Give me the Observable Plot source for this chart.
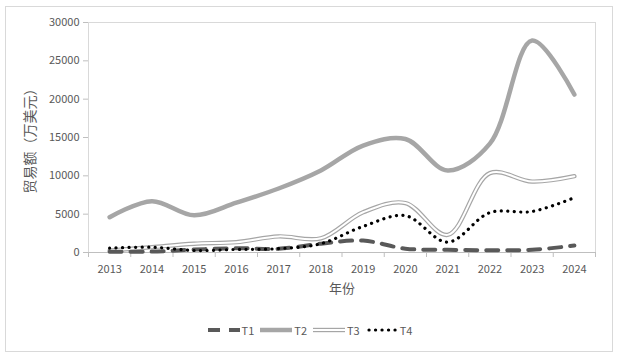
<!DOCTYPE html>
<html><head><meta charset="utf-8">
<script src="https://cdn.jsdelivr.net/npm/d3@7"></script>
<script src="https://cdn.jsdelivr.net/npm/@observablehq/plot@0.6"></script>
<style>
body{margin:0;background:#fff;font-family:"Noto Sans CJK SC","Noto Sans",sans-serif;}
#box{position:absolute;left:5px;top:6px;width:606px;height:344px;border:1px solid #d9d9d9;background:#fff;}
#legend{position:absolute;left:2px;top:311px;width:606px;height:24px;display:flex;justify-content:center;align-items:center;font-size:11px;color:#595959;}
#legend .it{display:flex;align-items:center;margin:0 1px;}
#legend svg{display:block;}
</style></head>
<body><div id="box"><div id="chart"></div><div id="legend"></div></div>
<script>
const years = [2013,2014,2015,2016,2017,2018,2019,2020,2021,2022,2023,2024];
const seriesNames = ["T1","T2","T3","T4"];
const T1 = [100,120,380,560,480,1150,1550,500,350,300,350,900];
const T2 = [4600,6700,4850,6500,8350,10700,13950,14800,10700,14200,27650,20600];
const T3 = [250,700,1150,1350,2100,1850,5250,6450,2300,10350,9250,9950];
const T4 = [560,690,260,400,500,1150,3400,4800,1350,5200,5350,7150];
const yTicks = [0,5000,10000,15000,20000,25000,30000];

const rows = (vals, name) => years.map((yr,i)=>({year:yr, value:vals[i], series:name}));
const d1 = rows(T1,"T1"), d2 = rows(T2,"T2"), d3 = rows(T3,"T3"), d4 = rows(T4,"T4");
const bounds = years.map(y=>y-0.5).concat([years[years.length-1]+0.5]);

const font = '"Noto Sans CJK SC","Noto Sans",sans-serif';
const chart = Plot.plot({
  width: 606, height: 304,
  marginLeft: 82, marginRight: 17, marginTop: 15, marginBottom: 59,
  style: {fontFamily: font, fontSize: "11px", color: "#595959", background: "#fff"},
  x: {type: "linear", domain: [bounds[0], bounds[bounds.length-1]]},
  y: {domain: [0, 30000]},
  marks: [
    Plot.frame({stroke: "#d9d9d9"}),
    Plot.axisY({ticks: yTicks, tickSize: 5, tickPadding: 4, stroke: "#bfbfbf", tickFormat: d=>String(d),
      label: "贸易额（万美元）", labelAnchor: "center", labelArrow: "none", labelOffset: 63, fontSize: 11}),
    Plot.axisX({ticks: bounds, tickSize: 5, tickFormat: ()=>"", stroke: "#bfbfbf", label: null}),
    Plot.axisX({ticks: years, tickSize: 0, tickPadding: 13, tickFormat: d=>String(d),
      label: "年份", labelAnchor: "center", labelArrow: "none", labelOffset: 40}),
    Plot.ruleY([0], {stroke: "#bfbfbf"}),
    Plot.line(d2, {x:"year", y:"value", stroke:"#a6a6a6", strokeWidth:4.5, curve:"catmull-rom"}),
    Plot.line(d3, {x:"year", y:"value", stroke:"#a6a6a6", strokeWidth:4.4, curve:"catmull-rom"}),
    Plot.line(d3, {x:"year", y:"value", stroke:"#ffffff", strokeWidth:2, curve:"catmull-rom"}),
    Plot.line(d1, {x:"year", y:"value", stroke:"#595959", strokeWidth:4, strokeDasharray:"12,9", curve:"catmull-rom"}),
    Plot.line(d4, {x:"year", y:"value", stroke:"#000000", strokeWidth:3.2, strokeDasharray:"0.1,6.4", strokeLinecap:"round", curve:"catmull-rom"})
  ]
});
document.getElementById("chart").appendChild(chart);
chart.querySelectorAll("g[aria-label='y-axis label'] text").forEach(t=>{t.style.fontSize="14px";});
chart.querySelectorAll("g[aria-label='x-axis label'] text").forEach(t=>{t.style.fontSize="13px";});

// legend
const styles = {
  T1: [{stroke:"#595959", w:4, dash:"12,9"}],
  T2: [{stroke:"#a6a6a6", w:4.5}],
  T3: [{stroke:"#a6a6a6", w:4.4},{stroke:"#fff", w:2}],
  T4: [{stroke:"#000", w:3.2, dash:"0.1,6.4", cap:"round"}]
};
const leg = document.getElementById("legend");
seriesNames.forEach(name=>{
  const it = document.createElement("div"); it.className="it";
  const ns="http://www.w3.org/2000/svg";
  const s = document.createElementNS(ns,"svg"); s.setAttribute("width",34); s.setAttribute("height",12);
  styles[name].forEach(st=>{
    const l=document.createElementNS(ns,"line");
    l.setAttribute("x1",name==="T4"?4:1); l.setAttribute("x2",33); l.setAttribute("y1",6); l.setAttribute("y2",6);
    l.setAttribute("stroke",st.stroke); l.setAttribute("stroke-width",st.w);
    if(st.dash) l.setAttribute("stroke-dasharray",st.dash);
    if(st.cap) l.setAttribute("stroke-linecap",st.cap);
    s.appendChild(l);
  });
  const t=document.createElement("span"); t.textContent=name; t.style.marginLeft="1px"; t.style.marginRight="3px";
  it.appendChild(s); it.appendChild(t); leg.appendChild(it);
});
</script></body></html>
